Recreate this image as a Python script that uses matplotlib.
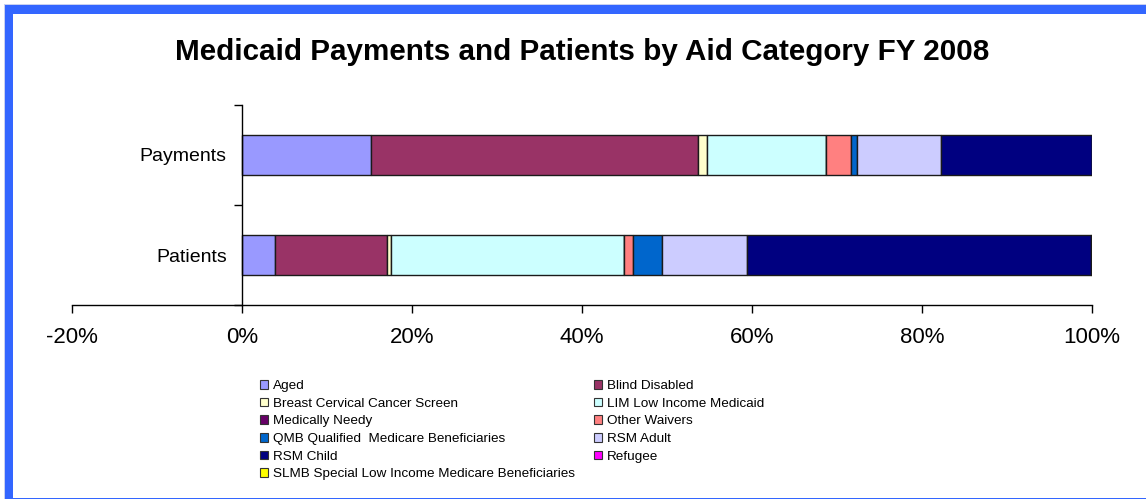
import matplotlib
matplotlib.use("Agg")
import matplotlib.pyplot as plt
from matplotlib.patches import Rectangle
import numpy as np

plt.rcParams['font.family'] = ['Liberation Sans', 'DejaVu Sans']

categories = ["Patients", "Payments"]
series_names = ["Aged", "Blind Disabled", "Breast Cervical Cancer Screen",
                "LIM Low Income Medicaid", "Medically Needy", "Other Waivers",
                "QMB Qualified  Medicare Beneficiaries", "RSM Adult", "RSM Child",
                "Refugee", "SLMB Special Low Income Medicare Beneficiaries"]
colors = ["#9999FF", "#993366", "#FFFFCC", "#CCFFFF", "#660066", "#FF8080",
          "#0066CC", "#CCCCFF", "#000080", "#FF00FF", "#FFFF00"]
# values in percent: [Patients, Payments]
aged = [3.92, 15.14]
blind_disabled = [13.17, 38.54]
breast_cervical = [0.40, 1.06]
lim = [27.49, 14.00]
medically_needy = [0.0, 0.0]
other_waivers = [1.06, 2.94]
qmb = [3.38, 0.71]
rsm_adult = [10.00, 9.81]
rsm_child = [40.43, 17.80]
refugee = [0.15, 0.0]
slmb = [0.0, 0.0]
series = [aged, blind_disabled, breast_cervical, lim, medically_needy,
          other_waivers, qmb, rsm_adult, rsm_child, refugee, slmb]
xticks = [-20, 0, 20, 40, 60, 80, 100]
xticklabels = ["-20%", "0%", "20%", "40%", "60%", "80%", "100%"]
title = "Medicaid Payments and Patients by Aid Category FY 2008"

W, H = 1146, 499
fig = plt.figure(figsize=(W / 100, H / 100), dpi=100)
fig.patch.set_facecolor("white")

# frame
def px_rect(x0, y0, x1, y1, color):
    fig.patches.append(Rectangle((x0 / W, 1 - y1 / H), (x1 - x0) / W, (y1 - y0) / H,
                                 transform=fig.transFigure, facecolor=color,
                                 edgecolor="none", zorder=0))
px_rect(4, 4, W, 5, "#C8D0F0")
px_rect(4, 4, 5, H, "#C8D0F0")
px_rect(5, 5, W, 13.5, "#3366FF")
px_rect(5, 5, 13, H, "#3366FF")
px_rect(5, 497.5, W, H, "#3366FF")

ax = fig.add_axes([72 / W, 1 - 305 / H, 1020 / W, 200 / H])
y = np.arange(len(categories))
left = np.zeros(len(categories))
handles = []
for name, vals, c in zip(series_names, series, colors):
    vals = np.array(vals)
    b = ax.barh(y, vals, left=left, height=0.4, color=c, edgecolor="#1a1a1a",
                linewidth=1.0, label=name)
    handles.append(b)
    left += vals

ax.set_xlim(-20, 100)
ax.set_ylim(-0.5, 1.5)
ax.spines['top'].set_visible(False)
ax.spines['right'].set_visible(False)
ax.spines['left'].set_position(('data', 0))
ax.spines['left'].set_linewidth(1.0)
ax.spines['bottom'].set_linewidth(1.0)
ax.set_xticks(xticks)
ax.set_xticklabels(xticklabels, fontsize=16)
ax.tick_params(axis='x', direction='out', length=6, width=1, pad=10)
ax.set_yticks(y)
ax.set_yticklabels(categories, fontsize=14)
ax.tick_params(axis='y', which='major', length=0, pad=11)
ax.set_yticks([-0.5, 0.5, 1.5], minor=True)
ax.tick_params(axis='y', which='minor', direction='out', length=6, width=1)

fig.text(0.508, 1 - 52 / H, title, ha='center', va='center', fontsize=21.3,
         fontweight='bold')

col1 = [0, 2, 4, 6, 8, 10]
col2 = [1, 3, 5, 7, 9]
for idxs, xpx in ((col1, 260), (col2, 594)):
    leg = fig.legend([handles[i] for i in idxs], [series_names[i] for i in idxs],
                     ncol=1, loc='upper left', bbox_to_anchor=(xpx / W, 1 - 380 / H),
                     frameon=False, fontsize=9.7, handlelength=0.6, handleheight=0.6,
                     handletextpad=0.35, labelspacing=0.42,
                     borderaxespad=0, borderpad=0)
    for h in leg.legend_handles:
        h.set_linewidth(0.8)
        h.set_edgecolor("#333333")

fig.savefig("out.png", dpi=100, facecolor="white")
